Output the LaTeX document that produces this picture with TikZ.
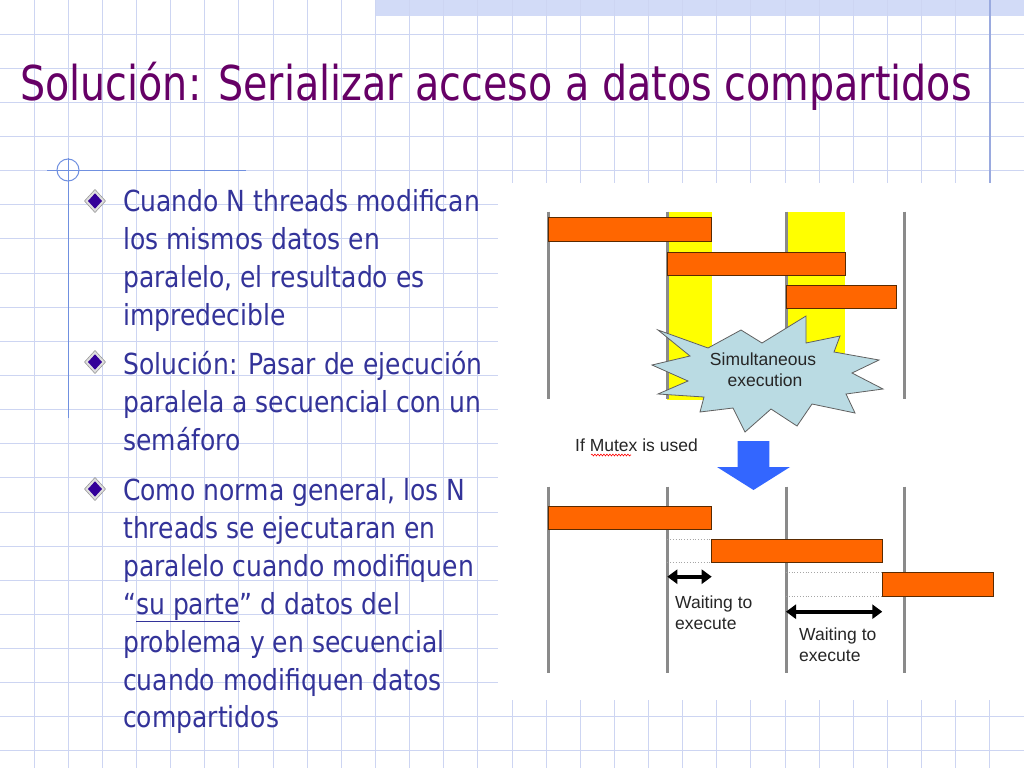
\documentclass[tikz,border=0pt]{standalone}
\usepackage{fontspec}
\setmainfont{DejaVu Sans}[FakeStretch=0.863]
\newfontfamily\titlef{DejaVu Sans}[FakeStretch=0.826]
\newfontfamily\arialf{Liberation Sans}
\usetikzlibrary{arrows.meta,decorations.pathmorphing}
\definecolor{gridc}{HTML}{CDD5F2}
\definecolor{stripc}{HTML}{D2DBF7}
\definecolor{darkline}{HTML}{9AAADF}
\definecolor{decoc}{HTML}{7090E0}
\definecolor{titlec}{HTML}{660066}
\definecolor{bulletc}{HTML}{333399}
\definecolor{diamc}{HTML}{330099}
\definecolor{threadgray}{HTML}{8A8A8A}
\definecolor{barorange}{HTML}{FF6600}
\definecolor{bardark}{HTML}{5A2A00}
\definecolor{bandyellow}{HTML}{FFFF00}
\definecolor{burstc}{HTML}{BADBE3}
\definecolor{arrowblue}{HTML}{3366FF}
\tikzset{
  gridline/.style={draw=gridc, line width=0.9pt},
  btext/.style={anchor=base west, inner sep=0pt, text=bulletc, font=\fontsize{29}{38}\selectfont},
  dtext/.style={inner sep=0pt, text=black!85, font=\arialf\fontsize{17.5}{20}\selectfont},
  thread/.style={draw=threadgray, line width=3pt},
  bar/.style={fill=barorange, draw=bardark, line width=0.8pt},
  waitline/.style={draw=gray!70, line width=0.8pt, dotted},
  waitarrow/.style={line width=4pt, {Triangle[length=10pt,width=14pt]}-{Triangle[length=10pt,width=14pt]}},
  bulletmark/.pic={
    \fill[fill=gray!25, draw=gray!80, line width=0.6pt] (-10.5,0) -- (0,-11.5) -- (10.5,0) -- (0,11.5) -- cycle;
    \fill[diamc] (-7,0) -- (0,-7.7) -- (7,0) -- (0,7.7) -- cycle;
  }
}
\begin{document}
\begin{tikzpicture}[x=1pt,y=-1pt]
\useasboundingbox (0,0) rectangle (1024,768);
\fill[white] (0,0) rectangle (1024,768);
% top strip
\fill[stripc] (375,0) rectangle (1024,16);
% grid
\foreach \k in {1,...,29} \draw[gridline] ({\k*34.1333},0) -- ({\k*34.1333},768);
\foreach \k in {1,...,22} \draw[gridline] (0,{\k*34.1333}) -- (1024,{\k*34.1333});
% white picture area
\fill[white] (498,183) rectangle (1024,700);
% dark vertical line at right
\draw[darkline, line width=1.8pt] (990,0) -- (990,183);
% left decoration
\draw[decoc, line width=1pt] (47,170) -- (246,170);
\draw[decoc, line width=1pt] (68,158) -- (68,418);
\draw[decoc, line width=1pt] (68,170) circle[radius=11];

% title
\node[anchor=base west, inner sep=0pt, text=titlec, font=\titlef\fontsize{48}{56}\selectfont] (title) at (20,100) {Solución: Serializar acceso a datos compartidos};

% bullets
\pic at (95,201) {bulletmark};
\pic at (95,362) {bulletmark};
\pic at (95,489) {bulletmark};
\node[btext] (b1a) at (123,211) {Cuando N threads modifican};
\node[btext] (b1b) at (123,249) {los mismos datos en};
\node[btext] (b1c) at (123,287) {paralelo, el resultado es};
\node[btext] (b1d) at (123,325) {impredecible};
\node[btext] (b2a) at (123,374) {Solución: Pasar de ejecución};
\node[btext] (b2b) at (123,412) {paralela a secuencial con un};
\node[btext] (b2c) at (123,450) {semáforo};
\node[btext] (b3a) at (123,500) {Como norma general, los N};
\node[btext] (b3b) at (123,538) {threads se ejecutaran en};
\node[btext] (b3c) at (123,576) {paralelo cuando modifiquen};
\node[btext] (b3d) at (123,614) {“\underline{su parte}” d datos del};
\node[btext] (b3e) at (123,652) {problema y en secuencial};
\node[btext] (b3f) at (123,690) {cuando modifiquen datos};
\node[btext] (b3g) at (123,727) {compartidos};

% ---- upper diagram: simultaneous execution
\fill[bandyellow] (667.3,212) rectangle (711.7,399.5);
\fill[bandyellow] (786,212) rectangle (845,399.5);
\foreach \xx in {548.3,667.3,786,904.3} \draw[thread] (\xx,211.7) -- (\xx,399.3);
\draw[bar] (548.3,217.7) rectangle (711.7,241);
\draw[bar] (667.3,252.3) rectangle (845,275);
\draw[bar] (786,285.7) rectangle (896.7,308.3);
% starburst
\filldraw[fill=burstc, draw=gray!75!black, line width=0.8pt]
  (658,330) -- (708,348) -- (741,330) -- (762,343) -- (806,316) -- (806,343) -- (840,336) -- (834,352)
  -- (879,360) -- (852,373) -- (883,389) -- (846,394) -- (855,413) -- (812,404) -- (797,426) -- (771,409)
  -- (745,432) -- (733,408) -- (700,412) -- (704,397) -- (658,394) -- (688,381) -- (652,365) -- (690,356) -- cycle;
\node[dtext, anchor=base] (sim1) at (763,365) {Simultaneous};
\node[dtext, anchor=base] (sim2) at (765,386) {execution};

% mutex label
\node[dtext, anchor=base west] (mutex) at (575,451) {If Mutex is used};
\draw[red, line width=0.6pt, decorate, decoration={snake, amplitude=0.9pt, segment length=3pt}] (591,455) -- (631,455);

% blue down arrow
\fill[arrowblue] (737.7,441) -- (769.3,441) -- (769.3,467) -- (790,467) -- (753.5,490) -- (717,467) -- (737.7,467) -- cycle;

% ---- lower diagram: serialized
\foreach \xx in {548.3,667.3,786,904.3} \draw[thread] (\xx,486.7) -- (\xx,673.3);
\draw[waitline] (667.3,539) -- (711.7,539);
\draw[waitline] (667.3,562.3) -- (711.7,562.3);
\draw[waitline] (786,572.3) -- (882.3,572.3);
\draw[waitline] (786,596.7) -- (882.3,596.7);
\draw[bar] (548.3,506) rectangle (711.7,529.3);
\draw[bar] (711.7,539) rectangle (882.3,562.3);
\draw[bar] (882.3,572.3) rectangle (993.3,596.7);
\coordinate (w1l) at (667.3,576.7);
\coordinate (w1r) at (711.7,576.7);
\coordinate (w2l) at (786,611.7);
\coordinate (w2r) at (882.3,611.7);
\draw[waitarrow] (w1l) -- (w1r);
\draw[waitarrow] (w2l) -- (w2r);
\node[dtext, anchor=base west] (wt1a) at (675,608.3) {Waiting to};
\node[dtext, anchor=base west] (wt1b) at (675,629.5) {execute};
\node[dtext, anchor=base west] (wt2a) at (799,640) {Waiting to};
\node[dtext, anchor=base west] (wt2b) at (799,661.7) {execute};
\end{tikzpicture}
\end{document}
